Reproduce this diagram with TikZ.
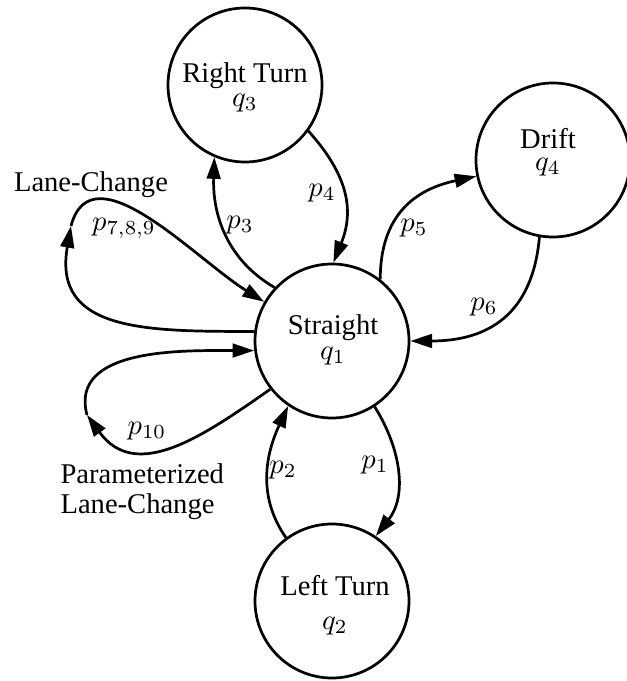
\documentclass[tikz,border=0pt]{standalone}
\usepackage[no-math]{fontspec}
\setmainfont{Liberation Serif}
\usetikzlibrary{arrows.meta}
\begin{document}
\begin{tikzpicture}[x=0.35pt,y=0.35pt,
  every node/.style={font=\fontsize{10}{12}\selectfont, inner sep=0pt},
  state/.style={circle, draw, line width=0.95pt, minimum size=53.9pt},
  stext/.style={align=center},
  trans/.style={line width=0.95pt, -{Triangle[length=7.6pt,width=4.8pt]}}]
\useasboundingbox (0,0) rectangle (626,-681);
% states
\node[state] (q1) at (332,-341) {};
\node[state] (q3) at (245,-85) {};
\node[state] (q4) at (553,-160) {};
\node[state] (q2) at (332,-601) {};
\node[stext] (q1t) at (333,-339.75) {Straight\\[-3.1pt]$q_1$};
\node[stext] (q3t) at (245,-87.4) {Right Turn\\[-3.8pt]$q_3$};
\node[stext] (q4t) at (548,-152.3) {Drift\\[-4.3pt]$q_4$};
\node[stext] (q2t) at (335,-605) {Left Turn\\$q_2$};
% transitions
\draw[trans] (q1.137) to[out=150,in=268] (q3.247);
\draw[trans] (q3.324) to[out=-48,in=68,looseness=1.1] (q1.89);
\draw[trans] (q1.52) to[out=90,in=192,looseness=1.15] (q4.192);
\draw[trans] (q4.260) to[out=265,in=0,looseness=1.2] (q1.0);
\draw[trans] (q1.303) to[out=-58,in=52] (q2.56);
\draw[trans] (q2.126) to[out=125,in=245] (q1.236);
% self loops
\coordinate (lcm) at (71,-226);
\draw[trans] (q1.173) to[out=180,in=260,looseness=1.3] (lcm);
\draw[trans] (lcm) to[out=75,in=148] (q1.150);
\coordinate (pcm) at (87,-415);
\draw[trans] (q1.218) to[out=215,in=306,looseness=1.15] (pcm);
\draw[trans] (pcm) to[out=105,in=180] (q1.187);
% labels
\node (l1) at (375,-465) {$p_1$};
\node (l2) at (283,-470) {$p_2$};
\node (l3) at (240,-225) {$p_3$};
\node (l4) at (322,-193) {$p_4$};
\node (l5) at (414,-228) {$p_5$};
\node (l6) at (484,-307) {$p_6$};
\node (l789) at (124,-228) {$p_{7,8,9}$};
\node (l10) at (147,-431) {$p_{10}$};
\node (lc) at (91,-185) {Lane-Change};
\node[align=left, anchor=west] (plc) at (60,-491.5) {Parameterized\\[-1.5pt]Lane-Change};
\end{tikzpicture}
\end{document}
